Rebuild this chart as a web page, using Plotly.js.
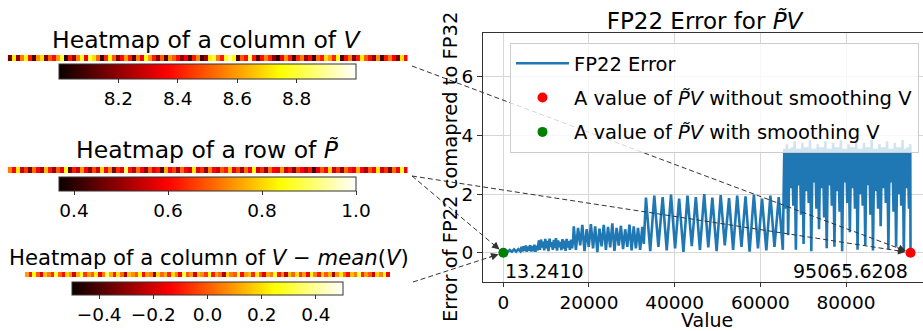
<!DOCTYPE html>
<html><head><meta charset="utf-8">
<script src="https://cdn.plot.ly/plotly-3.0.1.min.js"></script>
<style>html,body{margin:0;padding:0;background:#fff}#chart{width:923px;height:331px}</style>
</head><body><div id="chart"></div>
<script>
// ---------- DATA ----------
// Heatmap strips (values read/estimated from the picture)
const columnV = [8.15,8.72,8.2,8.55,8.75,8.4,8.1,8.58,8.7,8.18,
 8.5,8.38,8.6,8.8,8.05,8.4,8.22,8.55,8.78,8.35,
 8.82,8.7,8.52,8.08,8.42,8.74,8.5,8.2,8.38,8.6,
 8.4,8.1,8.55,8.36,8.76,8.6,8.4,8.2,8.5,8.12,
 8.58,8.5,8.38,8.2,8.35,8.1,8.4,8.56,8.08,8.22,
 8.72,8.8,8.55,8.4,8.78,8.9,8.75,8.1,8.5,8.38,
 8.85,8.4,8.12,8.38,8.56,8.42,8.2,8.06,8.36,8.58,
 8.4,8.1,8.42,8.55,8.22,8.38,8.08,8.52,8.4,8.7,
 8.6,8.42,8.75,8.1,8.38,8.55,8.2,8.4,8.72,8.5,
 8.38,8.2,8.58,8.1,8.4,8.55,8.36,8.18,8.7,8.38];
const rowP = [0.72,0.6,0.82,0.55,0.65,0.48,0.7,0.6,0.52,0.78,
 0.62,0.5,0.68,0.58,0.85,0.45,0.62,0.55,0.74,0.6,
 0.5,0.66,0.56,0.8,0.6,0.72,0.48,0.64,0.58,0.9,
 0.62,0.54,0.7,0.6,0.5,0.68,0.58,0.62,0.45,0.76,
 0.6,0.66,0.52,0.7,0.6,0.56,0.82,0.58,0.64,0.5,
 0.72,0.6,0.55,0.68,0.62,0.78,0.58,0.66,0.52,0.7,
 0.6,0.84,0.56,0.64,0.5,0.7,0.6,0.58,0.74,0.55,
 0.62,0.48,0.66,0.6,0.54,0.62,0.42,0.58,0.68,0.6,
 0.8,0.55,0.65,0.5,0.7,0.62,0.58,0.76,0.6,0.52,
 0.68,0.6,0.82,0.56,0.64,0.48,0.7,0.6,0.86,0.58];
const columnVCentered = [0.1,-0.1,0.25,0.0,-0.18,0.15,0.05,-0.08,0.3,0.02,
 -0.12,0.18,0.08,-0.2,0.12,0.28,-0.05,0.1,0.0,0.22,
 -0.15,0.05,0.35,0.12,-0.1,0.2,0.02,-0.25,0.15,0.08,
 0.0,0.25,-0.12,0.1,0.05,-0.3,0.18,0.02,0.12,-0.08,
 0.2,0.05,-0.15,0.3,0.0,0.1,-0.2,0.15,0.08,-0.05,
 0.25,-0.1,0.12,0.02,-0.25,0.18,0.05,0.0,0.3,-0.12,
 0.1,0.15,-0.08,0.22,0.0,-0.18,0.12,0.05,0.28,-0.1,
 0.08,-0.22,0.15,0.02,0.2,-0.05,0.1,-0.15,0.25,0.05,
 -0.1,0.18,0.0,0.12,-0.28,0.08,0.22,0.02,-0.12,0.15,
 0.05,0.3,-0.08,0.1,0.0,-0.2,0.18,0.06,0.25,-0.15];

const cb1Ticks = [8.2,8.4,8.6,8.8];
const cb2Ticks = [0.4,0.6,0.8,1.0];
const cb2Text = ['0.4','0.6','0.8','1.0'];
const cb3Ticks = [-0.4,-0.2,0.0,0.2,0.4];
const cb3Text = ['\u22120.4','\u22120.2','0.0','0.2','0.4'];

// FP22 error curve, segment by segment (peaks / troughs)
const val1 = [13,500,1000,1500,2000,2500,3000,3500,4000];
const err1 = [0.0,0.06,0.02,0.09,0.03,0.11,0.04,0.12,0.05];
const val2 = [4250,4500,4750,5000,5250,5500,5750,6000,6250,6500,6750,7000,7250,7500,7750,8000];
const err2 = [0.2,0.04,0.22,0.06,0.25,0.03,0.21,0.07,0.26,0.04,0.23,0.05,0.27,0.03,0.24,0.08];
const val3 = [8300,8550,8800,9050,9300,9550,9800,10050,10300,10550,10800,11050,11300,11550,11800,12050,12300,12550,12800,13050,13300,13550,13800,14050,14300,14550,14800,15050,15300,15550,15800,16050,16300];
const err3 = [0.42,0.1,0.45,0.18,0.38,0.08,0.47,0.15,0.4,0.05,0.48,0.2,0.36,0.1,0.44,0.16,0.5,0.07,0.42,0.19,0.37,0.09,0.46,0.14,0.41,0.06,0.47,0.18,0.39,0.1,0.45,0.15,0.4];
const val4 = [16450,16950,17450,17950,18450,18950,19450,19950,20450,20950,21450,21950,22450,22950,23450,23950,24450,24950,25450,25950,26450,26950,27450,27950,28450,28950,29450,29950,30450,30950,31450,31950,32450];
const err4 = [0.9,0.1,0.85,0.25,0.95,0.05,0.8,0.2,0.98,0.15,0.9,0.02,0.82,0.22,0.95,0.1,0.88,0.18,1.0,0.06,0.85,0.24,0.92,0.12,0.8,0.2,0.96,0.08,0.9,0.15,0.85,0.1,0.88];
const val5 = [32800,33300,34300,35250,36200,37200,38150,39150,40100,41050,42050,43000,44000,44950,45900,46900,47850,48800,49800,50750,51700,52700,53650,54600,55600,56550,57500,58500,59450,60400,61400,62350,63300,64300,65250];
const err5 = [0.3,1.88,0.05,1.95,0.2,1.9,0.08,1.98,0.15,1.85,0.03,1.95,0.22,1.9,0.1,2.0,0.18,1.88,0.05,1.97,0.25,1.86,0.1,1.95,0.2,1.92,0.04,1.98,0.15,1.85,0.08,1.95,0.2,1.9,0.1];
const val6 = [65600,65900,66200,66500,66800,67100,67400,67700,68000,68300,68600,68900,69200,69500,69800,70100,70400,70700,71000,71300,71600,71900,72200,72500,72800,73100,73400,73700,74000,74300,74600,74900,75200,75500,75800,76100,76400,76700,77000,77300,77600,77900,78200,78500,78800,79100,79400,79700,80000,80300,80600,80900,81200,81500,81800,82100,82400,82700,83000,83300,83600,83900,84200,84500,84800,85100,85400,85700,86000,86300,86600,86900,87200,87500,87800,88100,88400,88700,89000,89300,89600,89900,90200,90500,90800,91100,91400,91700,92000,92300,92600,92900,93200,93500,93800,94100,94400,94700,95000,95065];
const err6 = [3.55,1.5,3.7,0.6,3.55,2.2,
 3.6,1.6,3.8,0.1,3.55,2.3,
 3.55,1.3,3.75,0.3,3.6,2.1,
 3.6,1.7,3.85,0.05,3.55,2.4,
 3.55,1.5,3.7,0.8,3.6,2.2,
 3.6,1.2,3.8,0.15,3.55,2.3,
 3.55,1.6,3.75,0.2,3.6,2.1,
 3.6,1.4,3.85,0.05,3.55,2.4,
 3.55,1.7,3.7,0.7,3.6,2.2,
 3.6,1.5,3.8,0.1,3.55,2.0,
 3.55,1.6,3.75,0.25,3.6,2.3,
 3.6,1.3,3.85,0.08,3.55,2.1,
 3.55,1.5,3.7,0.9,3.6,2.2,
 3.6,1.7,3.8,0.12,3.55,2.4,
 3.55,1.4,3.75,0.2,3.6,2.0,
 3.6,1.6,3.85,0.06,3.55,2.2,
 3.6,1.5,3.7,0.0];

const redPoint = {value: 95065.6208, err: 0};
const greenPoint = {value: 13.2410, err: 0};
const xTickVals = [0,20000,40000,60000,80000];
const xTickText = ['0','20000','40000','60000','80000'];
const yTickVals = [0,2,4,6];

// ---------- LAYOUT GEOMETRY ----------
const W = 923, H = 331;
const FONT = 'DejaVu Sans, sans-serif';
const px = x => x / W, py = y => 1 - y / H;
const xDom = [px(483), 1], yDom = [py(282), py(33)];
const xRange = [-4739, 97976], yRange = [-1, 7.5];
const dataPx = (v, e) => [
  xDom[0]*W + (v - xRange[0])/(xRange[1]-xRange[0])*(xDom[1]-xDom[0])*W,
  H - (yDom[0]*H + (e - yRange[0])/(yRange[1]-yRange[0])*(yDom[1]-yDom[0])*H)
];

const hot = [[0,'rgb(11,0,0)'],[0.365,'rgb(255,0,0)'],[0.746,'rgb(255,255,0)'],[1,'rgb(255,255,255)']];

const errX = [].concat(val1,val2,val3,val4,val5,val6);
const errY = [].concat(err1,err2,err3,err4,err5,err6);

function cb(xc, ytop, len, thick, tv, tt) {
  return {orientation:'h', x:px(xc), xanchor:'center', y:py(ytop), yanchor:'top',
    len:len, lenmode:'pixels', thickness:thick, thicknessmode:'pixels', xpad:0, ypad:0,
    outlinewidth:1, outlinecolor:'#333', tickvals:tv, ticktext:tt, ticks:'outside', ticklen:4,
    tickcolor:'#333', tickfont:{family:FONT, size:18.5, color:'#000'}};
}

const traces = [
  {type:'heatmap', z:[columnV], xaxis:'x2', yaxis:'y2', colorscale:hot, zmin:8.0, zmax:9.0,
   colorbar:cb(207.5, 64, 297, 15, cb1Ticks, cb1Ticks.map(v=>v.toFixed(1))), showlegend:false, hoverinfo:'skip'},
  {type:'heatmap', z:[rowP], xaxis:'x3', yaxis:'y3', colorscale:hot, zmin:0.368, zmax:1.0,
   colorbar:cb(207.5, 177, 297, 14, cb2Ticks, cb2Text), showlegend:false, hoverinfo:'skip'},
  {type:'heatmap', z:[columnVCentered], xaxis:'x4', yaxis:'y4', colorscale:hot, zmin:-0.5, zmax:0.5,
   colorbar:cb(207.5, 282, 271, 13, cb3Ticks, cb3Text), showlegend:false, hoverinfo:'skip'},
  {type:'scatter', mode:'lines', x:errX, y:errY, name:'FP22 Error', legendgroup:'a',
   line:{color:'#1f77b4', width:2.6}},
  {type:'scatter', mode:'markers', x:[redPoint.value], y:[redPoint.err], legendgroup:'b',
   name:'A value of <i>P\u0303V</i> without smoothing V', marker:{color:'#ff0000', size:10}},
  {type:'scatter', mode:'markers', x:[greenPoint.value], y:[greenPoint.err], legendgroup:'c',
   name:'A value of <i>P\u0303V</i> with smoothing V', marker:{color:'#008000', size:10}}
];

const hidden = {showgrid:false, zeroline:false, showticklabels:false, ticks:'', showline:false, fixedrange:true};

// connection lines: start pixel positions (right of the strips) -> data points
const red = dataPx(redPoint.value, redPoint.err);
const green = dataPx(greenPoint.value, greenPoint.err);
const links = [
  {s:[412,66], t:red, d:redPoint},
  {s:[412,176], t:red, d:redPoint},
  {s:[412,176], t:green, d:greenPoint},
  {s:[413,282], t:green, d:greenPoint}
];
const shapes = [];
const annotations = [];
links.forEach(l => {
  const dx = l.s[0]-l.t[0], dy = l.s[1]-l.t[1];
  const n = Math.hypot(dx, dy), ux = dx/n, uy = dy/n;
  shapes.push({type:'line', xref:'paper', yref:'paper', layer:'above',
    x0:px(l.s[0]), y0:py(l.s[1]), x1:px(l.t[0]+ux*8), y1:py(l.t[1]+uy*8),
    line:{color:'#333', width:1, dash:'5px,3px'}});
  annotations.push({x:l.d.value, y:l.d.err, xref:'x', yref:'y', text:'', showarrow:true,
    ax:ux*16, ay:uy*16, axref:'pixel', ayref:'pixel', arrowhead:2, arrowsize:1.5, arrowwidth:1,
    arrowcolor:'#333', standoff:5});
});

const ann = (text, x, y, size, extra) => Object.assign({text, x:px(x), y:py(y), xref:'paper', yref:'paper',
  showarrow:false, xanchor:'center', yanchor:'middle', font:{family:FONT, size, color:'#000'}}, extra||{});
annotations.push(ann('Heatmap of a column of <i>V</i>', 206.5, 40, 23.5));
annotations.push(ann('Heatmap of a row of <i>P\u0303</i>', 207.5, 150, 23.5));
annotations.push(ann('Heatmap of a column of <i>V</i> \u2212 <i>mean</i>(<i>V</i>)', 208.5, 257, 21.2));
annotations.push(ann('Error of FP22 comapred to FP32', 450, 167, 19.5, {textangle:-90}));
annotations.push(ann('Value', 707, 319.5, 19, {height:20, borderpad:0, valign:'middle'}));
annotations.push({text:greenPoint.value.toFixed(4), x:greenPoint.value, y:greenPoint.err, xref:'x', yref:'y',
  showarrow:false, xanchor:'left', yanchor:'top', yshift:-5, xshift:0, font:{family:FONT, size:19, color:'#000'}});
annotations.push({text:redPoint.value.toFixed(4), x:redPoint.value, y:redPoint.err, xref:'x', yref:'y',
  showarrow:false, xanchor:'right', yanchor:'top', yshift:-5, xshift:-1, font:{family:FONT, size:19, color:'#000'}});

const layout = {
  width:W, height:H, margin:{l:0,r:0,t:0,b:0}, paper_bgcolor:'#fff', plot_bgcolor:'#fff',
  font:{family:FONT, size:18.5, color:'#000'},
  title:{text:'FP22 Error for <i>P\u0303V</i>', x:px(704.5), xanchor:'center', y:py(21), yanchor:'middle',
    font:{family:FONT, size:23, color:'#000'}},
  xaxis:{domain:xDom, range:xRange, tickvals:xTickVals, ticktext:xTickText, showgrid:true, gridcolor:'#d6d6d6',
    gridwidth:1, zeroline:false, showline:true, mirror:true, linecolor:'#333', linewidth:1, ticks:'outside',
    ticklen:4, tickcolor:'#333', tickfont:{size:18.5}, automargin:false, anchor:'y'},
  yaxis:{domain:yDom, range:yRange, tickvals:yTickVals, showgrid:true, gridcolor:'#d6d6d6', gridwidth:1,
    zeroline:false, showline:true, mirror:false, linecolor:'#333', linewidth:1, ticks:'outside', ticklen:5,
    tickcolor:'#333', tickfont:{size:18.5}, automargin:false, anchor:'x'},
  xaxis2:Object.assign({domain:[px(7.7), px(407.7)], anchor:'y2'}, hidden),
  yaxis2:Object.assign({domain:[py(61), py(55)], anchor:'x2'}, hidden),
  xaxis3:Object.assign({domain:[px(7.7), px(407.7)], anchor:'y3'}, hidden),
  yaxis3:Object.assign({domain:[py(173), py(167)], anchor:'x3'}, hidden),
  xaxis4:Object.assign({domain:[px(25), px(390)], anchor:'y4'}, hidden),
  yaxis4:Object.assign({domain:[py(277), py(272)], anchor:'x4'}, hidden),
  legend:{x:px(510), y:py(43), xanchor:'left', yanchor:'top', bgcolor:'rgba(255,255,255,0.8)',
    bordercolor:'#cccccc', borderwidth:1, font:{family:FONT, size:19.5, color:'#000'}, itemwidth:53,
    tracegroupgap:6, traceorder:'grouped'},
  shapes, annotations, showlegend:true
};

Plotly.newPlot('chart', traces, layout, {displayModeBar:false, staticPlot:true});
</script></body></html>
